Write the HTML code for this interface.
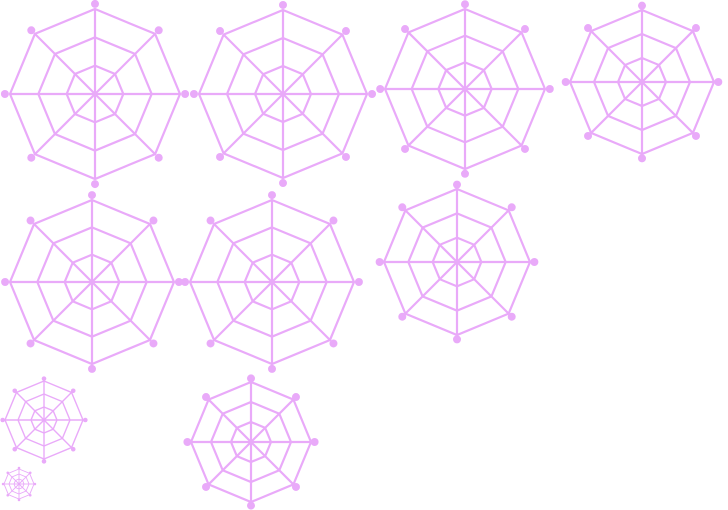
<!DOCTYPE html>
<html><head><meta charset="utf-8"><style>
html,body{margin:0;padding:0;background:#fff;width:728px;height:510px;overflow:hidden}
svg{display:block}
</style></head><body>
<svg id="s" width="728" height="510" viewBox="0 0 728 510">
</svg>
<script>
const webNames=['web-1','web-2','web-3','web-4','web-5','web-6','web-7','web-8','web-9','web-10'];
const webX=[95,283,465,642,92,272,457,44,19,251];
const webY=[94,94,89,82,282,282,262,420,484,442];
const webR=[85,84,80,72,82,82,73,39,15,60];
const ringLevels=[1/3,2/3,1];
const NS='http://www.w3.org/2000/svg';
const svg=document.getElementById('s');
const col='#e9aaf9';
function pt(cx,cy,r,i){const a=-Math.PI/2+i*Math.PI/4;return [cx+r*Math.cos(a),cy+r*Math.sin(a)];}
webNames.forEach((n,k)=>{
  const cx=webX[k],cy=webY[k],R=webR[k];
  const sw=R>50?2.2:(R>25?1.4:0.9);
  const g=document.createElementNS(NS,'g');
  
  
  g.setAttribute('stroke',col);g.setAttribute('fill','none');g.setAttribute('stroke-width',sw);
  ringLevels.forEach(l=>{
    const p=document.createElementNS(NS,'polygon');
    
    
    let s=[];for(let i=0;i<8;i++){s.push(pt(cx,cy,R*l,i).join(','));}
    p.setAttribute('points',s.join(' '));g.appendChild(p);
  });
  for(let i=0;i<8;i++){
    const [x,y]=pt(cx,cy,R,i);
    const ln=document.createElementNS(NS,'line');
    
    
    ln.setAttribute('x1',cx);ln.setAttribute('y1',cy);ln.setAttribute('x2',x);ln.setAttribute('y2',y);
    g.appendChild(ln);
    const [dx,dy]=pt(cx,cy,R*1.06,i);
    const c=document.createElementNS(NS,'circle');
    
    
    c.setAttribute('cx',dx);c.setAttribute('cy',dy);c.setAttribute('r',R>50?4:(R>25?2.3:1.3));
    c.setAttribute('fill',col);c.setAttribute('stroke','none');
    g.appendChild(c);
  }
  svg.appendChild(g);
});
</script>
</body></html>
